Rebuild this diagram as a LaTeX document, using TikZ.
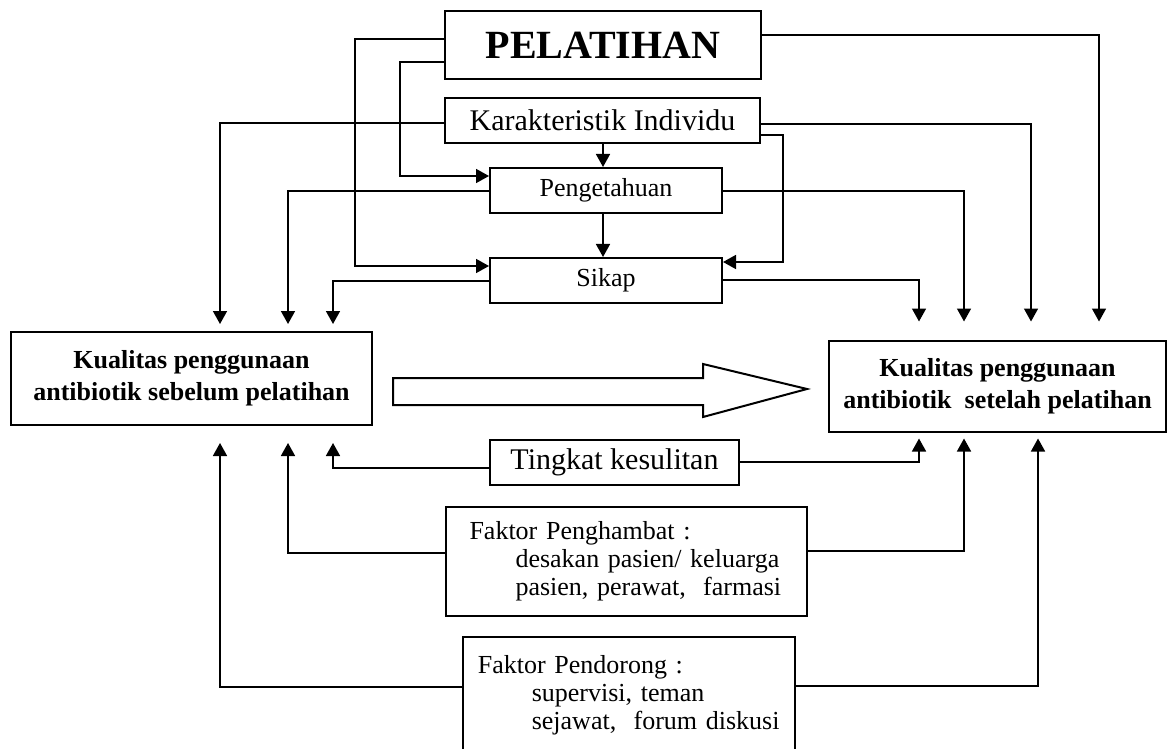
\documentclass[tikz,border=0pt]{standalone}
\usepackage{fontspec}
\setmainfont{Liberation Serif}
\usetikzlibrary{arrows.meta}
\tikzset{
  box/.style={draw,line width=1pt,inner sep=0pt,align=center,font=\fontsize{13pt}{15.8pt}\selectfont},
  quality/.style={box,minimum width=#1,minimum height=45.5pt,font=\fontsize{13pt}{15.8pt}\selectfont\bfseries},
  factor/.style={box,align=left,font=\fontsize{13pt}{14.1pt}\selectfont},
  flow/.style={-{Triangle[length=6.5pt,width=7pt]},line width=0.8pt},
  bigarrow/.style={draw,line width=1pt,fill=white}
}
\begin{document}
\begin{tikzpicture}[x=0.5pt,y=-0.5pt]
    \useasboundingbox (0,0) rectangle (1170,748);
    \clip (0,0) rectangle (1170,748);
    % boxes
    \node[box,minimum width=158pt,minimum height=34pt,font=\fontsize{20pt}{24pt}\selectfont\bfseries] (pel) at (603,45) {PELATIHAN};
    \node[box,minimum width=157.5pt,minimum height=22.5pt,font=\fontsize{15pt}{18pt}\selectfont] (kar) at (602.5,120.2) {Karakteristik Individu};
    \node[box,minimum width=116pt,minimum height=22.5pt] (peng) at (606,190.5) {Pengetahuan};
    \node[box,minimum width=116pt,minimum height=22.5pt] (sik) at (606,280.5) {Sikap};
    \node[quality=180.5pt,minimum height=46.5pt] (before) at (191.5,378.5) {Kualitas penggunaan\\antibiotik sebelum pelatihan};
    \node[quality=168.5pt] (after) at (997.5,386) {Kualitas penggunaan\\antibiotik\ \ setelah pelatihan};
    \node[box,minimum width=124.5pt,minimum height=22.5pt,font=\fontsize{15pt}{18pt}\selectfont] (tk) at (614.5,462.5) {Tingkat kesulitan};
    \node[factor,text width=157pt,inner xsep=11.8pt,minimum height=54.2pt] (ph) at (626.5,561.5)
      {Faktor Penghambat :\\\hspace*{23pt}desakan pasien/ keluarga\\\hspace*{23pt}pasien, perawat,\ \ farmasi};
    \node[factor,text width=151.2pt,inner xsep=7.4pt,minimum height=58pt] (pd) at (629,695)
      {Faktor Pendorong :\\\hspace*{27pt}supervisi, teman\\\hspace*{27pt}sejawat,\ \ forum diskusi};
    % big arrow
    \draw[bigarrow] (393,378) -- (703,378) -- (703,364) -- (807,389) -- (703,417) -- (703,405) -- (393,405) -- cycle;
    % columns of the connectors
    \coordinate (la) at (220,0);
    \coordinate (lb) at (288,0);
    \coordinate (lc) at (333,0);
    \coordinate (ra) at (919,0);
    \coordinate (rb) at (964,0);
    \coordinate (rc) at (1031,0);
    \coordinate (rd) at (1099,0);
    \coordinate (re) at (1038,0);
    % pelatihan to the middle column
    \draw[flow] (pel.west |- 0,39) -| (355,266) -- (sik.west |- 0,266);
    \draw[flow] (pel.west |- 0,62) -| (400,176) -- (peng.west |- 0,176);
    \draw[flow] (kar.south -| 603,0) -- (peng.north -| 603,0);
    \draw[flow] (peng.south -| 603,0) -- (sik.north -| 603,0);
    \draw[flow] (kar.east |- 0,135) -| (783,262) -- (sik.east |- 0,262);
    % into the box before
    \draw[flow,shorten >=3.5pt] (kar.west |- 0,123) -| (la |- before.north);
    \draw[flow,shorten >=3.5pt] (peng.west |- 0,191) -| (lb |- before.north);
    \draw[flow,shorten >=3.5pt] (sik.west |- 0,281) -| (lc |- before.north);
    \draw[flow,shorten >=8.5pt] (tk.west |- 0,468) -| (lc |- before.south);
    \draw[flow,shorten >=8.5pt] (ph.west |- 0,553) -| (lb |- before.south);
    \draw[flow,shorten >=8.5pt] (pd.west |- 0,687) -| (la |- before.south);
    % into the box after
    \draw[flow,shorten >=9pt] (sik.east |- 0,280) -| (ra |- after.north);
    \draw[flow,shorten >=9pt] (peng.east |- 0,191) -| (rb |- after.north);
    \draw[flow,shorten >=9pt] (kar.east |- 0,124) -| (rc |- after.north);
    \draw[flow,shorten >=9pt] (pel.east |- 0,35) -| (rd |- after.north);
    \draw[flow,shorten >=3pt] (tk.east |- 0,462) -| (ra |- after.south);
    \draw[flow,shorten >=3pt] (ph.east |- 0,551) -| (rb |- after.south);
    \draw[flow,shorten >=3pt] (pd.east |- 0,686) -| (re |- after.south);
\end{tikzpicture}
\end{document}
